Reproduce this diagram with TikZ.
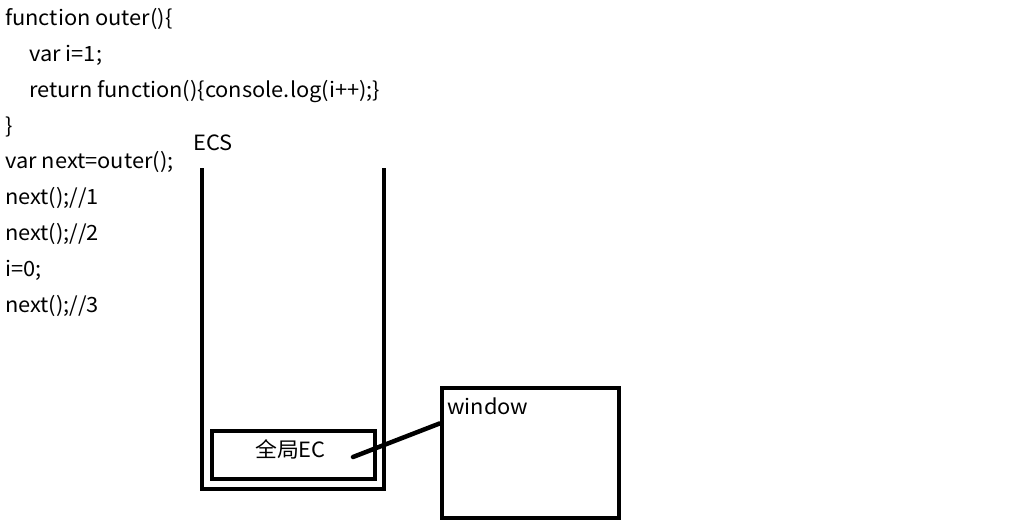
\documentclass[tikz,border=0pt]{standalone}
\usepackage{fontspec}
\setmainfont{Noto Sans CJK SC}[FakeStretch=1.04]
\usetikzlibrary{calc}
\begin{document}
\begin{tikzpicture}[x=1pt,y=-1pt,
  code/.style={anchor=base west,inner sep=0pt,font=\fontsize{21}{24}\selectfont},
  thick4/.style={line width=4.5pt},
  box/.style={draw,line width=4.5pt,inner sep=0pt}]
\useasboundingbox (0,0) rectangle (1016,523);
\fill[white] (0,0) rectangle (1016,523);
% code text
\node[code] (l1) at (5,25) {function outer()\{};
\node[code] (l2) at (29,61) {var i=1;};
\node[code] (l3) at (29,97) {return function()\{console.log(i++);\}};
\node[code] (l4) at (5,133) {\}};
\node[code] (l5) at (5,168) {var next=outer();};
\node[code] (l6) at (5,204) {next();//1};
\node[code] (l7) at (5,240) {next();//2};
\node[code] (l8) at (5,276) {i=0;};
\node[code] (l9) at (5,312) {next();//3};
% ECS stack
\node[code] (ecs) at (193,150) {ECS};
\coordinate (stl) at (202,168);
\coordinate (str) at (384,168);
\draw[thick4] (stl) -- (202,489) -- (384,489) -- (str);
% global EC box
\node[box,minimum width=163pt,minimum height=48pt] (gec) at (293.5,455) {};
\node[code] (gect) at (255,457) {全局EC};
% window box
\node[box,minimum width=177pt,minimum height=130pt] (win) at (530.5,453) {};
\node[code] (wint) at (447,414) {window};
% connector
\coordinate (ls) at (353,457);
\coordinate (le) at ($(win.north west)!0.28!(win.south west)$);
\draw[thick4,line cap=round] (ls) -- (le);
\end{tikzpicture}
\end{document}
